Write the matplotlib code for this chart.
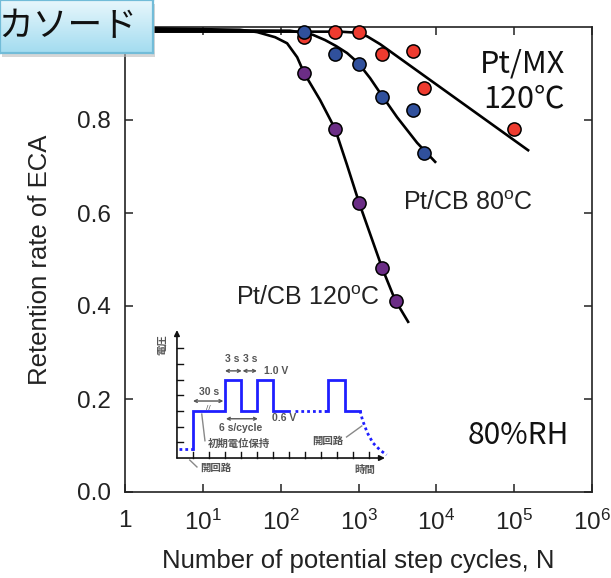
import numpy as np
import matplotlib
matplotlib.use("Agg")
import matplotlib.pyplot as plt
from matplotlib.patches import Rectangle

plt.rcParams["font.family"] = ["Liberation Sans", "DejaVu Sans"]
plt.rcParams["mathtext.fontset"] = "custom"
plt.rcParams["mathtext.rm"] = "Liberation Sans"
plt.rcParams["mathtext.it"] = "Liberation Sans:italic"
JP = ["Noto Sans CJK JP", "DejaVu Sans"]

# measured points
mx_n = [200, 500, 1000, 2000, 5000, 7000, 100000]
mx_r = [0.978, 0.989, 0.989, 0.942, 0.948, 0.869, 0.781]
cb80_n = [200, 500, 1000, 2000, 5000, 7000]
cb80_r = [0.989, 0.942, 0.920, 0.849, 0.822, 0.729]
cb120_n = [200, 500, 1000, 2000, 3000]
cb120_r = [0.901, 0.781, 0.622, 0.482, 0.411]

# fitted curves
cb120_fit_n = [1, 30, 50, 85, 121, 163, 200, 321, 500, 713, 1018, 2010, 2950, 4340]
cb120_fit_r = [0.998, 0.994, 0.989, 0.978, 0.965, 0.935, 0.901, 0.843, 0.781, 0.703, 0.622, 0.482, 0.413, 0.366]
cb80_fit_n = [1, 132, 206, 261, 371, 516, 713, 988, 1410, 1900, 3130, 5660, 9660]
cb80_fit_r = [0.994, 0.992, 0.987, 0.983, 0.972, 0.959, 0.944, 0.923, 0.890, 0.858, 0.806, 0.751, 0.710]
mx_fit_n = [1, 580, 904, 1290, 1900, 151000]
mx_fit_r = [0.990, 0.990, 0.988, 0.980, 0.963, 0.735]

xticks = [1, 1e1, 1e2, 1e3, 1e4, 1e5, 1e6]
xtick_labels = ["1", "$10^{1}$", "$10^{2}$", "$10^{3}$", "$10^{4}$", "$10^{5}$", "$10^{6}$"]
yticks = [0.0, 0.2, 0.4, 0.6, 0.8]

# inset schematic (arbitrary units: time ticks / voltage ticks)
ocv_t = [0.1, 1.0]
ocv_v = [0.6, 0.6]
wave_t = [1, 1, 3, 3, 4, 4, 5, 5, 6, 6, 7]
wave_v = [0.6, 3, 3, 5, 5, 3, 3, 5, 5, 3, 3]
gap_t = [7.4, 9.3]
gap_v = [3, 3]
last_t = [9.3, 9.45, 9.45, 10.5, 10.5, 11.45]
last_v = [3, 3, 5, 5, 3, 3]
decay_t = [11.45, 11.6, 11.9, 12.25, 12.7, 13.1]
decay_v = [3, 2.4, 1.6, 0.96, 0.5, 0.2]

RED = "#ee3b2f"
BLUE = "#30509c"
PURPLE = "#6b2d86"

W, H = 611, 578
fig = plt.figure(figsize=(W / 100, H / 100), dpi=100, facecolor="white")
ax = fig.add_axes([125 / W, 1 - 492 / H, 467 / W, 465 / H])

ax.plot(cb120_fit_n, cb120_fit_r, color="black", lw=1.9, clip_on=False, zorder=3)
ax.plot(cb80_fit_n, cb80_fit_r, color="black", lw=1.9, clip_on=False, zorder=3)
ax.plot(mx_fit_n, mx_fit_r, color="black", lw=1.9, clip_on=False, zorder=3)

mk = dict(marker="o", ls="none", ms=9.5, mec="black", mew=1.1, clip_on=False, zorder=4)
ax.plot(mx_n, mx_r, mfc=RED, **mk)
ax.plot(cb80_n, cb80_r, mfc=BLUE, **mk)
ax.plot(cb120_n, cb120_r, mfc=PURPLE, **mk)

ax.set_xscale("log")
ax.set_xlim(1, 1e6)
ax.set_ylim(0, 1.0)
ax.set_xticks(xticks)
ax.set_xticklabels(xtick_labels)
ax.set_yticks(yticks)
ax.set_yticklabels([f"{v:.1f}" for v in yticks])
ax.minorticks_off()
ax.tick_params(direction="in", length=6, width=1.1, top=True, right=True,
               labelsize=17.5, color="#222222", labelcolor="#222222")
ax.tick_params(axis="x", pad=13)
ax.tick_params(axis="y", pad=10)
for s in ax.spines.values():
    s.set_linewidth(1.2)
    s.set_color("#222222")

ax.set_xlabel("Number of potential step cycles, N", fontsize=18.5, color="#222222", labelpad=10)
ax.set_ylabel("Retention rate of ECA", fontsize=18.5, color="#222222", labelpad=18)

ax.text(565 / W, 1 - 64 / H, "Pt/MX", transform=fig.transFigure, ha="right", va="center",
        fontsize=22, family=JP, color="#111111")
ax.text(565 / W, 1 - 99 / H, "120℃", transform=fig.transFigure, ha="right", va="center",
        fontsize=22, family=JP, color="#111111")
ax.text(468 / W, 1 - 203 / H, r"Pt/CB 80$^{\rm o}$C", transform=fig.transFigure,
        ha="center", va="center", fontsize=18, color="#222222")
ax.text(380 / W, 1 - 298 / H, r"Pt/CB 120$^{\rm o}$C", transform=fig.transFigure,
        ha="right", va="center", fontsize=18, color="#222222")
ax.text(518 / W, 1 - 436 / H, "80%RH", transform=fig.transFigure, ha="center", va="center",
        fontsize=21.5, family=JP, color="#111111")

# ---- inset waveform schematic ----
ins = fig.add_axes([140 / W, 1 - 480 / H, 260 / W, 160 / H])
ins.set_xlim(-2.31, 13.94)
ins.set_ylim(-1.40, 8.79)
ins.axis("off")
ins.patch.set_alpha(0)
ins.annotate("", xy=(0, 8.15), xytext=(0, 0),
             arrowprops=dict(arrowstyle="-|>", color="#111111", lw=1.2, mutation_scale=8, shrinkA=0, shrinkB=0))
ins.annotate("", xy=(13.0, 0), xytext=(0, 0),
             arrowprops=dict(arrowstyle="-|>", color="#111111", lw=1.2, mutation_scale=8, shrinkA=0, shrinkB=0))
for t in range(1, 13):
    ins.plot([t, t], [0, 0.4], color="#111111", lw=1.0)
for v in range(1, 8):
    ins.plot([0, 0.4], [v, v], color="#111111", lw=1.0)

ins.plot(wave_t, wave_v, color="#1f1fff", lw=2.0, solid_joinstyle="miter")
ins.plot(last_t, last_v, color="#1f1fff", lw=2.0, solid_joinstyle="miter")
dot = dict(color="#1f1fff", lw=2.0, ls=(0, (1, 1.1)))
ins.plot(ocv_t, ocv_v, **dot)
ins.plot(gap_t, gap_v, **dot)
ins.plot(decay_t, decay_v, **dot)

gray = "#555555"
arr = dict(arrowstyle="<->", color=gray, lw=1.0, mutation_scale=5, shrinkA=0, shrinkB=0)
ins.annotate("", xy=(3.0, 5.55), xytext=(4.05, 5.55), arrowprops=arr)
ins.annotate("", xy=(4.1, 5.55), xytext=(5.0, 5.55), arrowprops=arr)
ins.annotate("", xy=(1.0, 3.63), xytext=(2.9, 3.63), arrowprops=arr)
ins.annotate("", xy=(3.06, 2.5), xytext=(5.06, 2.5), arrowprops=arr)
tk = dict(color=gray, fontsize=7.5, fontweight="bold", ha="center", va="center")
ins.text(3.45, 6.3, "3 s", **tk)
ins.text(4.6, 6.3, "3 s", **tk)
ins.text(6.2, 5.55, "1.0 V", **tk)
ins.text(2.0, 4.2, "30 s", **tk)
ins.text(4.0, 1.9, "6 s/cycle", **tk)
ins.text(6.7, 2.55, "0.6 V", **tk)
ins.text(1.95, 3.15, "//", color=gray, fontsize=6, ha="center", va="center")
jk = dict(color=gray, fontsize=7.5, family=JP, fontweight="bold", ha="center", va="center")
ins.text(3.85, 0.9, "初期電位保持", **jk)
ins.text(2.4, -0.64, "開回路", **jk)
ins.text(9.4, 1.1, "開回路", **jk)
ins.text(11.75, -0.78, "時間", **jk)
ins.text(-0.95, 7.25, "電圧", rotation=90, **jk)
ins.plot([1.55, 1.75], [2.8, 1.1], color="#888888", lw=1.0)
ins.plot([0.8, 1.25], [-0.13, -0.57], color="#888888", lw=1.0)
ins.plot([10.6, 11.55], [1.34, 2.04], color="#888888", lw=1.0)

# ---- label box ----
fig.add_artist(Rectangle((2 / W, 1 - 57 / H), 153 / W, 53 / H, transform=fig.transFigure,
                         facecolor="#bbbbbb", edgecolor="none", alpha=0.6, zorder=9))
box = fig.add_axes([0, 1 - 53 / H, 153 / W, 53 / H])
box.set_zorder(10)
grad = np.linspace(0, 1, 64).reshape(-1, 1)
box.imshow(grad, aspect="auto", extent=(0, 1, 0, 1), origin="upper",
           cmap=matplotlib.colors.LinearSegmentedColormap.from_list("b", ["#e8f7fc", "#a3dcf0"]))
box.set_xlim(0, 1)
box.set_ylim(0, 1)
box.set_xticks([])
box.set_yticks([])
for s in box.spines.values():
    s.set_color("#72bcd8")
    s.set_linewidth(1.6)
box.text(-0.01, 0.49, "カソード", ha="left", va="center", fontsize=25, family=JP, color="#111111")

fig.savefig("out.png", dpi=100, facecolor="white")
